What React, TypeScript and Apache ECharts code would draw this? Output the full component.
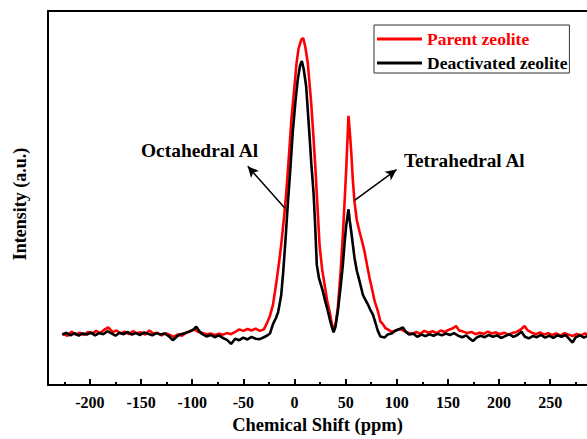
import React, { useEffect, useRef } from "react";
import * as echarts from "echarts";

const redShift = [-227,-222,-218,-214,-210,-206,-202,-198,-194,-190,-186,-182,-178,-174,-170,-166,-162,-158,-154,-150,-146,-142,-138,-134,-130,-126,-122,-118,-114,-110,-106,-102,-98,-94,-90,-86,-82,-78,-74,-70,-66,-62,-58,-54,-50,-46,-42,-38,-34,-30,-27,-24,-21,-18,-15,-13,-10,-8,-5,-3,0,2,4,6.6,8.5,10.5,13,16.3,18.5,20.5,22.5,24.5,27,29.4,32,34.2,36.5,38.2,40,42.4,45,47.3,49,50.6,52,52.8,54,55.5,57,58.7,61,63.6,66,68.5,71,73.4,76,78.3,81.5,84,86.4,89,91.3,95,99,103,107,111,115,119,123,127,131,135,139,143,147,151,155,158,161,165,169,173,177,181,185,189,193,197,201,205,209,213,217,221,225,228,232,236,240,244,248,252,256,260,264,268,272,276,280,284,288];
const redIntensity = [13.8,13.2,14.3,13.5,14.0,13.4,14.2,13.7,14.5,13.9,14.8,15.4,14.2,14.6,13.8,14.3,13.6,14.4,13.9,14.1,13.5,14.6,13.8,14.0,13.3,13.9,13.4,12.9,13.6,13.2,14.0,14.4,14.9,14.2,13.9,13.6,13.8,13.4,13.7,13.5,13.9,13.6,14.2,14.9,14.5,15.0,14.6,15.1,14.5,14.9,16.5,18.5,21.5,26.9,33,37.5,45.5,51.6,63,71.1,80,86,90,92.3,92.8,90.5,86.1,75.5,66.5,57.8,47.5,37.5,31,26.9,22.5,19.8,16.5,14.5,16,20.7,30,40.1,49,57.8,67,72.0,68,62.3,55,49.0,44,41.0,38.5,35.7,32,28.6,25.5,22.5,19.8,17.0,16.3,15.2,14.9,14.2,14.6,15.0,14.5,14.0,13.6,14.2,13.7,14.5,14.0,14.4,13.9,14.6,14.2,14.8,15.2,15.8,14.6,14.3,13.9,14.2,13.6,14.0,13.7,14.3,13.8,14.1,13.6,14.0,13.5,13.9,14.2,14.8,15.8,14.6,14.0,13.6,14.1,13.5,13.9,13.4,13.8,13.2,13.9,13.5,13.1,13.7,13.3,13.8,13.4];

const blackShift = [-227,-223,-219,-215,-211,-207,-203,-199,-195,-191,-187,-183,-179,-175,-171,-167,-163,-159,-155,-151,-147,-143,-139,-135,-131,-127,-123,-119,-115,-111,-107,-103,-99,-96,-93,-90,-86,-82,-78,-74,-70,-66,-62,-58,-54,-50,-46,-42,-38,-34,-30,-27,-24,-21,-18,-16,-13,-11,-9,-6.6,-4,-1.7,1,3.2,5.5,7.2,9,11.4,13,14.7,16.5,18.6,20,21.8,24,27.7,30,32.6,35.5,38.2,40,42.4,45,47.3,49,50.6,52.8,54,55.5,58.7,61,63.6,66.8,69,71.7,74,76.6,79,81.5,84,88,91,95,99,103,106,109,112,116,120,124,128,132,136,140,144,148,152,156,160,164,168,171,174.5,178,182,186,190,194,198,202,206,210,214,218,222,225,229,233,237,241,245,249,253,257,261,265,269,272,275,279,283,287];
const blackIntensity = [13.4,14.0,13.3,13.9,13.2,13.8,13.5,14.1,13.3,13.9,13.6,14.4,13.8,13.2,14.0,13.6,14.2,13.5,13.9,13.4,14.1,13.7,13.3,13.9,13.5,13.8,13.1,12.0,13.0,13.6,13.9,14.3,14.8,15.6,14.4,13.6,13.0,13.4,12.8,13.3,12.6,12.1,11.0,12.4,12.0,12.7,12.2,12.9,12.4,12.3,12.8,13.2,13.8,16.3,18.0,19.5,24,30.4,38,48.1,58,67.6,76,81.7,85.5,86.6,84.5,79.9,73.5,66.7,59,51.6,44,32.2,28.5,25.1,22.5,19.8,16.5,14.1,15.5,19.8,26,32.2,38,42.8,47.0,44,41.0,34.0,30.5,27.8,24.2,23,21.6,20.2,18.9,16.8,14.5,13.0,12.7,13.5,13.8,14.6,15.0,15.4,14.2,13.5,13.8,12.9,13.5,13.1,13.6,13.2,13.7,13.3,13.8,13.4,13.9,13.2,12.8,13.3,12.5,11.8,12.7,13.2,12.8,13.4,12.9,13.3,12.6,13.1,13.6,12.9,13.4,14.3,13.0,12.5,13.1,12.8,13.4,12.7,13.2,12.6,13.3,12.9,13.4,12.2,11.4,12.8,13.3,12.7,13.2];

const xMajorTicks = [-200, -150, -100, -50, 0, 50, 100, 150, 200, 250];
const xMinorTicks = [-225, -175, -125, -75, -25, 25, 75, 125, 175, 225, 275];

const seriesNames = ["Parent zeolite", "Deactivated zeolite"];
const seriesColors = ["#ff0000", "#000000"];

const annotationTexts = ["Octahedral Al", "Tetrahedral Al"];
// arrow start (on curve) and end (toward text), in data units [ppm, intensity]
const octaArrow = [[-9.1, 47.2], [-45.7, 58.5]];
const tetraArrow = [[58.7, 49.4], [99.8, 57.6]];

const FONT = "Liberation Serif";

export default function App() {
  const ref = useRef<HTMLDivElement>(null);
  useEffect(() => {
    if (!ref.current) return;
    const chart = echarts.init(ref.current, undefined, { renderer: "svg" });
    const redData = redShift.map((x, i) => [x, redIntensity[i]]);
    const blackData = blackShift.map((x, i) => [x, blackIntensity[i]]);
    const axisMin = -241;
    const axisMax = 286;
    const legendText = { fontFamily: FONT, fontWeight: "bold", fontSize: 17.5 };
    chart.setOption({
      animation: false,
      backgroundColor: "#ffffff",
      textStyle: { fontFamily: FONT },
      grid: { left: 48, right: 0, top: 11, bottom: 51, containLabel: false },
      legend: {
        left: 374,
        top: 25,
        orient: "vertical",
        backgroundColor: "#ffffff",
        borderColor: "#333333",
        borderWidth: 1,
        borderRadius: 0,
        padding: [5, 2, 1, 3],
        itemGap: 6,
        itemWidth: 45,
        itemHeight: 3,
        icon: "rect",
        textStyle: legendText,
        data: [
          { name: seriesNames[0], textStyle: { ...legendText, color: seriesColors[0] } },
          { name: seriesNames[1], textStyle: { ...legendText, color: seriesColors[1] } },
        ],
      },
      xAxis: [
        {
          type: "value",
          min: axisMin,
          max: axisMax,
          position: "bottom",
          name: "Chemical Shift (ppm)",
          nameLocation: "middle",
          nameGap: 29,
          nameTextStyle: { fontFamily: FONT, fontWeight: "bold", fontSize: 18.5, color: "#000" },
          axisLine: { show: true, onZero: false, lineStyle: { color: "#000", width: 2 } },
          axisTick: { show: true, inside: true, length: 6, customValues: xMajorTicks, lineStyle: { color: "#000", width: 2 } },
          axisLabel: { show: true, customValues: xMajorTicks, margin: 9, fontFamily: FONT, fontWeight: "bold", fontSize: 16, color: "#000" },
          splitLine: { show: false },
        },
        {
          type: "value",
          min: axisMin,
          max: axisMax,
          position: "bottom",
          axisLine: { show: false },
          axisTick: { show: true, inside: true, length: 3, customValues: xMinorTicks, lineStyle: { color: "#000", width: 2 } },
          axisLabel: { show: false, customValues: xMinorTicks },
          splitLine: { show: false },
        },
        {
          type: "value",
          min: axisMin,
          max: axisMax,
          position: "top",
          axisLine: { show: true, onZero: false, lineStyle: { color: "#000", width: 2 } },
          axisTick: { show: false },
          axisLabel: { show: false },
          splitLine: { show: false },
        },
      ],
      yAxis: {
        type: "value",
        min: 0,
        max: 100,
        axisLine: { show: true, onZero: false, lineStyle: { color: "#000", width: 2 } },
        axisTick: { show: false },
        axisLabel: { show: false },
        splitLine: { show: false },
      },
      series: [
        {
          name: seriesNames[0],
          type: "line",
          data: redData,
          showSymbol: false,
          symbol: "none",
          lineStyle: { color: seriesColors[0], width: 2.6 },
          itemStyle: { color: seriesColors[0] },
          clip: true,
        },
        {
          name: seriesNames[1],
          type: "line",
          data: blackData,
          showSymbol: false,
          symbol: "none",
          lineStyle: { color: seriesColors[1], width: 2.6 },
          itemStyle: { color: seriesColors[1] },
          clip: true,
          markLine: {
            silent: true,
            symbol: ["none", "arrow"],
            symbolSize: [8, 11],
            label: { show: false },
            lineStyle: { color: "#000", width: 1.5, type: "solid" },
            data: [
              [{ coord: octaArrow[0] }, { coord: octaArrow[1] }],
              [{ coord: tetraArrow[0] }, { coord: tetraArrow[1] }],
            ],
          },
        },
      ],
      graphic: [
        {
          type: "text",
          x: 20,
          y: 204,
          rotation: Math.PI / 2,
          style: { text: "Intensity (a.u.)", fontFamily: FONT, fontWeight: "bold", fontSize: 18, fill: "#000", align: "center", verticalAlign: "middle" },
        },
        {
          type: "text",
          x: 141,
          y: 151,
          scaleX: 1.08,
          style: { text: annotationTexts[0], fontFamily: FONT, fontWeight: "bold", fontSize: 18, fill: "#000", align: "left", verticalAlign: "middle" },
        },
        {
          type: "text",
          x: 404,
          y: 161,
          scaleX: 1.07,
          style: { text: annotationTexts[1], fontFamily: FONT, fontWeight: "bold", fontSize: 18, fill: "#000", align: "left", verticalAlign: "middle" },
        },
      ],
    });
    return () => chart.dispose();
  }, []);
  return (
    <div
      ref={ref}
      style={{ position: "fixed", left: 0, top: 0, width: 587, height: 439, background: "#fff" }}
    />
  );
}
